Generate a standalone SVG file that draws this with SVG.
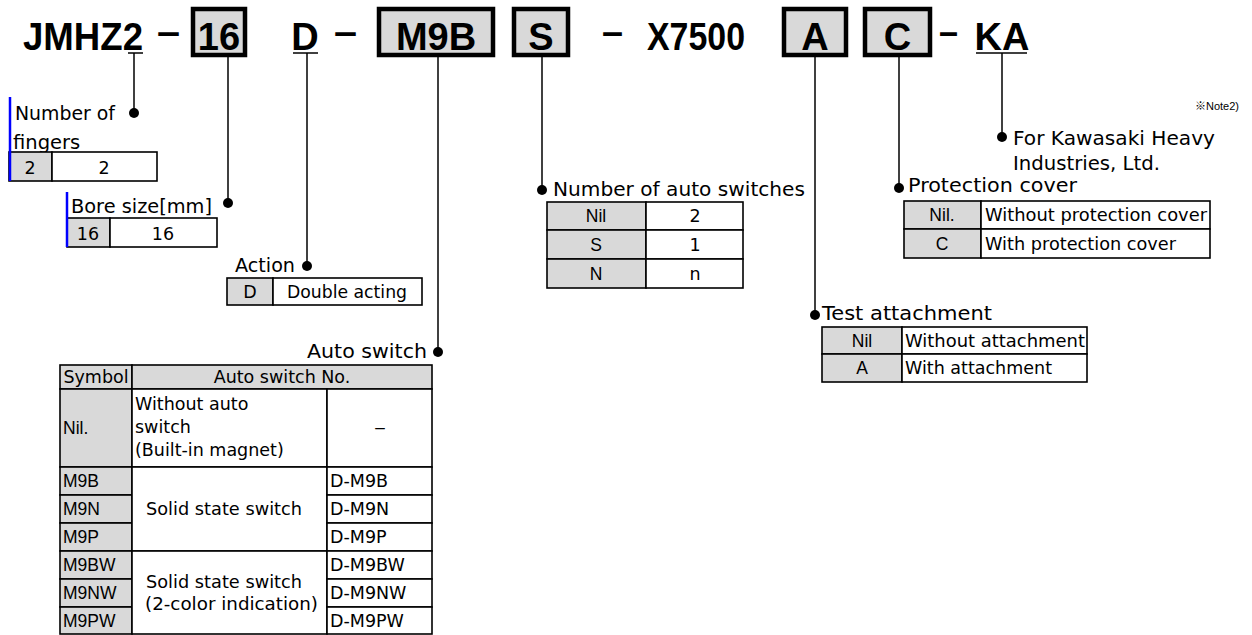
<svg xmlns="http://www.w3.org/2000/svg" width="1252" height="635" viewBox="0 0 1252 635">
<style>
.hd{font-family:"Liberation Sans",Arial,sans-serif;font-weight:bold;font-size:38px;fill:#000}
.lb{font-family:"DejaVu Sans",sans-serif;font-size:19.5px;fill:#000}
.tx{font-family:"DejaVu Sans",sans-serif;font-size:17.5px;fill:#000}
.ar{font-family:"Liberation Sans",Arial,sans-serif;font-size:17.5px;fill:#000}
.nt{font-family:"Liberation Sans","Noto Sans CJK JP",sans-serif;font-size:11px;fill:#000}
.c{text-anchor:middle}
.box{fill:#d9d9d9;stroke:#000;stroke-width:4.5}
.g{fill:#d9d9d9;stroke:#000;stroke-width:1.6}
.w{fill:#fff;stroke:#000;stroke-width:1.6}
.ln{stroke:#000;stroke-width:1.5;fill:none}
.bl{stroke:#0000ff;stroke-width:2.5}
</style>
<rect width="1252" height="635" fill="#fff"/>

<g id="code">
  <text class="hd" x="23" y="50" textLength="120" lengthAdjust="spacingAndGlyphs">JMHZ2</text>
  <text class="hd" x="157" y="45" textLength="23" lengthAdjust="spacingAndGlyphs">–</text>
  <rect class="box" x="193" y="9" width="52" height="46"/>
  <text class="hd c" x="219" y="50">16</text>
  <text class="hd c" x="305" y="50">D</text>
  <text class="hd" x="334" y="45" textLength="23" lengthAdjust="spacingAndGlyphs">–</text>
  <rect class="box" x="379" y="9" width="114" height="46"/>
  <text class="hd c" x="436" y="50">M9B</text>
  <rect class="box" x="514" y="9" width="54" height="46"/>
  <text class="hd c" x="541" y="50">S</text>
  <text class="hd" x="602" y="45" textLength="21" lengthAdjust="spacingAndGlyphs">–</text>
  <text class="hd" x="647" y="50" textLength="98" lengthAdjust="spacingAndGlyphs">X7500</text>
  <rect class="box" x="784" y="9" width="62" height="46"/>
  <text class="hd c" x="815" y="50">A</text>
  <rect class="box" x="865" y="9" width="65" height="46"/>
  <text class="hd c" x="897.5" y="50">C</text>
  <text class="hd" x="939" y="45" textLength="19" lengthAdjust="spacingAndGlyphs">–</text>
  <text class="hd c" x="1002" y="50">KA</text>
</g>

<g id="connectors">
  <line class="ln" x1="128" y1="53" x2="143" y2="53"/>
  <line class="ln" x1="293" y1="53" x2="318" y2="53"/>
  <line class="ln" x1="976" y1="53" x2="1027" y2="53"/>
  <line class="ln" x1="134" y1="53" x2="134" y2="113"/>
  <circle cx="134" cy="113" r="5"/>
  <line class="ln" x1="228" y1="57" x2="228" y2="203"/>
  <circle cx="228" cy="203" r="5"/>
  <line class="ln" x1="307" y1="53" x2="307" y2="266"/>
  <circle cx="307" cy="266" r="5"/>
  <line class="ln" x1="438" y1="57" x2="438" y2="352"/>
  <circle cx="438" cy="352" r="5"/>
  <line class="ln" x1="542" y1="57" x2="542" y2="190"/>
  <circle cx="542" cy="190" r="5"/>
  <line class="ln" x1="815" y1="57" x2="815" y2="315"/>
  <circle cx="815" cy="315" r="5"/>
  <line class="ln" x1="899" y1="57" x2="899" y2="188"/>
  <circle cx="899" cy="188" r="5"/>
  <line class="ln" x1="1002" y1="53" x2="1002" y2="137"/>
  <circle cx="1002" cy="137" r="5"/>
</g>

<g id="fingers">
  <text class="lb" x="15" y="120" textLength="100" lengthAdjust="spacingAndGlyphs">Number of</text>
  <text class="lb" x="13" y="149">fingers</text>
  <rect class="g" x="9" y="152" width="43" height="29"/>
  <rect class="w" x="52" y="152" width="105" height="29"/>
  <line class="bl" x1="10" y1="97" x2="10" y2="181"/>
  <text class="tx c" x="30" y="174">2</text>
  <text class="tx c" x="104" y="174">2</text>
</g>

<g id="bore">
  <text class="lb" x="71" y="213" textLength="141" lengthAdjust="spacingAndGlyphs">Bore size[mm]</text>
  <rect class="g" x="67" y="218" width="43" height="29"/>
  <rect class="w" x="110" y="218" width="107" height="29"/>
  <line class="bl" x1="67" y1="192" x2="67" y2="247"/>
  <text class="tx c" x="88" y="240">16</text>
  <text class="tx c" x="163" y="240">16</text>
</g>

<g id="action">
  <text class="lb" x="235" y="272" textLength="60" lengthAdjust="spacingAndGlyphs">Action</text>
  <rect class="g" x="227" y="278" width="46" height="27"/>
  <rect class="w" x="273" y="278" width="149" height="27"/>
  <text class="tx c" x="250" y="298">D</text>
  <text class="tx" x="287" y="298" textLength="120" lengthAdjust="spacingAndGlyphs">Double acting</text>
</g>

<g id="autoswitch">
  <text class="lb" x="427" y="358" text-anchor="end" textLength="120" lengthAdjust="spacingAndGlyphs">Auto switch</text>
  <rect class="g" x="60" y="365" width="72" height="24"/>
  <rect class="g" x="132" y="365" width="300" height="24"/>
  <text class="tx c" x="96" y="383">Symbol</text>
  <text class="tx c" x="282" y="383">Auto switch No.</text>
  <rect class="g" x="60" y="389" width="72" height="78"/>
  <rect class="w" x="132" y="389" width="195" height="78"/>
  <rect class="w" x="327" y="389" width="105" height="78"/>
  <text class="ar" x="63" y="434">Nil.</text>
  <text class="tx" x="135" y="410">Without auto</text>
  <text class="tx" x="135" y="433">switch</text>
  <text class="tx" x="135" y="456">(Built-in magnet)</text>
  <text class="tx" x="374" y="433" textLength="12" lengthAdjust="spacingAndGlyphs">–</text>
  <rect class="g" x="60" y="467" width="72" height="28"/>
  <rect class="g" x="60" y="495" width="72" height="28"/>
  <rect class="g" x="60" y="523" width="72" height="28"/>
  <rect class="g" x="60" y="551" width="72" height="28"/>
  <rect class="g" x="60" y="579" width="72" height="28"/>
  <rect class="g" x="60" y="607" width="72" height="27"/>
  <rect class="w" x="132" y="467" width="195" height="84"/>
  <rect class="w" x="132" y="551" width="195" height="83"/>
  <rect class="w" x="327" y="467" width="105" height="28"/>
  <rect class="w" x="327" y="495" width="105" height="28"/>
  <rect class="w" x="327" y="523" width="105" height="28"/>
  <rect class="w" x="327" y="551" width="105" height="28"/>
  <rect class="w" x="327" y="579" width="105" height="28"/>
  <rect class="w" x="327" y="607" width="105" height="27"/>
  <text class="ar" x="63" y="487">M9B</text>
  <text class="ar" x="63" y="515">M9N</text>
  <text class="ar" x="63" y="543">M9P</text>
  <text class="ar" x="63" y="571">M9BW</text>
  <text class="ar" x="63" y="599">M9NW</text>
  <text class="ar" x="63" y="627">M9PW</text>
  <text class="tx" x="146" y="515" textLength="156" lengthAdjust="spacingAndGlyphs">Solid state switch</text>
  <text class="tx" x="146" y="588" textLength="156" lengthAdjust="spacingAndGlyphs">Solid state switch</text>
  <text class="tx" x="145" y="610" textLength="173" lengthAdjust="spacingAndGlyphs">(2-color indication)</text>
  <text class="tx" x="330" y="487">D-M9B</text>
  <text class="tx" x="330" y="515">D-M9N</text>
  <text class="tx" x="330" y="543">D-M9P</text>
  <text class="tx" x="330" y="571">D-M9BW</text>
  <text class="tx" x="330" y="599">D-M9NW</text>
  <text class="tx" x="330" y="627">D-M9PW</text>
</g>

<g id="numswitches">
  <text class="lb" x="553" y="196" textLength="252" lengthAdjust="spacingAndGlyphs">Number of auto switches</text>
  <rect class="g" x="547" y="202" width="99" height="28"/>
  <rect class="g" x="547" y="230" width="99" height="29"/>
  <rect class="g" x="547" y="259" width="99" height="29"/>
  <rect class="w" x="646" y="202" width="97" height="28"/>
  <rect class="w" x="646" y="230" width="97" height="29"/>
  <rect class="w" x="646" y="259" width="97" height="29"/>
  <text class="ar c" x="596" y="222">Nil</text>
  <text class="tx c" x="695" y="222">2</text>
  <text class="ar c" x="596" y="251">S</text>
  <text class="tx c" x="695" y="251">1</text>
  <text class="ar c" x="596" y="280">N</text>
  <text class="tx c" x="695" y="280">n</text>
</g>

<g id="testattach">
  <text class="lb" x="822" y="320" textLength="170" lengthAdjust="spacingAndGlyphs">Test attachment</text>
  <rect class="g" x="822" y="327" width="80" height="27"/>
  <rect class="g" x="822" y="354" width="80" height="28"/>
  <rect class="w" x="902" y="327" width="185" height="27"/>
  <rect class="w" x="902" y="354" width="185" height="28"/>
  <text class="ar c" x="862" y="347">Nil</text>
  <text class="tx" x="905" y="347" textLength="180" lengthAdjust="spacingAndGlyphs">Without attachment</text>
  <text class="ar c" x="862" y="374">A</text>
  <text class="tx" x="905" y="374" textLength="147" lengthAdjust="spacingAndGlyphs">With attachment</text>
</g>

<g id="cover">
  <text class="lb" x="908" y="192" textLength="169" lengthAdjust="spacingAndGlyphs">Protection cover</text>
  <rect class="g" x="904" y="201" width="77" height="28"/>
  <rect class="g" x="904" y="229" width="77" height="29"/>
  <rect class="w" x="981" y="201" width="229" height="28"/>
  <rect class="w" x="981" y="229" width="229" height="29"/>
  <text class="ar c" x="942" y="221">Nil.</text>
  <text class="tx" x="985" y="221" textLength="222" lengthAdjust="spacingAndGlyphs">Without protection cover</text>
  <text class="ar c" x="942" y="250">C</text>
  <text class="tx" x="985" y="250" textLength="191" lengthAdjust="spacingAndGlyphs">With protection cover</text>
</g>

<g id="kawasaki">
  <text class="nt" x="1195" y="110">※Note2)</text>
  <text class="lb" x="1013" y="145" textLength="202" lengthAdjust="spacingAndGlyphs">For Kawasaki Heavy</text>
  <text class="lb" x="1013" y="170" textLength="147" lengthAdjust="spacingAndGlyphs">Industries, Ltd.</text>
</g>
</svg>
